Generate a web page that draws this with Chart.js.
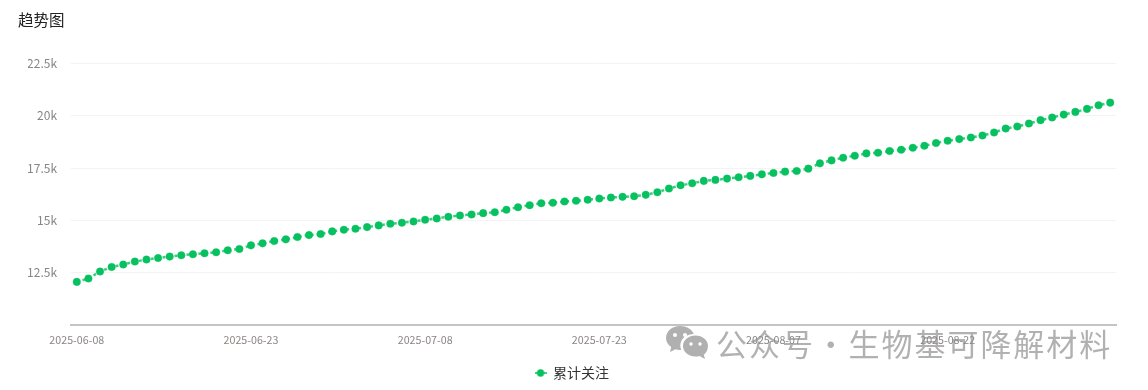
<!DOCTYPE html>
<html>
<head>
<meta charset="utf-8">
<title>趋势图</title>
<script src="https://cdn.jsdelivr.net/npm/chart.js@4/dist/chart.umd.min.js"></script>
<style>
  body { margin: 0; background: #fff; }
  #wrap { position: relative; width: 1148px; height: 390px; overflow: hidden; }
  #mark { position: absolute; left: 716px; top: 321px; font: 31px "Noto Sans CJK SC", sans-serif; letter-spacing: 1.95px; word-spacing: -8.5px; color: rgba(140,140,140,.68); white-space: nowrap; line-height: 44px; }
  #logo { position: absolute; left: 665px; top: 325px; }
</style>
</head>
<body>
<div id="wrap">
  <canvas id="trendChart" width="1148" height="390"></canvas>
  <svg id="logo" width="44" height="38" viewBox="0 0 44 38">
    <path fill="#b0b0b0" d="M15 1C7 1 1 6.500 1 13c0 3.800 2 6.800 5.200 9L5 27l5.500-2.800c1.500.4 3 .7 4.500.7h1.200C15.500 23 15.300 21.500 15.300 20.500c0-6.500 6-11.500 13.500-11.500C26.800 4.200 21.500 1 15 1z"/>
    <path fill="#b0b0b0" d="M43 21c0-6-5.800-10.500-12.500-10.500S18 15 18 21s5.800 10.500 12.500 10.500c1.400 0 2.800-.2 4-.6L40 34l-1.200-4.300C41.400 27.700 43 24.500 43 21z"/>
    <circle fill="#fff" cx="10" cy="10" r="2"/><circle fill="#fff" cx="20" cy="10" r="2"/>
    <circle fill="#fff" cx="26" cy="19" r="1.700"/><circle fill="#fff" cx="35" cy="19" r="1.700"/>
  </svg>
  <div id="mark">公众号 · 生物基可降解材料</div>
</div>
<script>
// Dates on the x axis
const june = ["2025-06-08","2025-06-09","2025-06-10","2025-06-11","2025-06-12","2025-06-13","2025-06-14","2025-06-15","2025-06-16","2025-06-17","2025-06-18","2025-06-19","2025-06-20","2025-06-21","2025-06-22","2025-06-23","2025-06-24","2025-06-25","2025-06-26","2025-06-27","2025-06-28","2025-06-29","2025-06-30"];
const july = ["2025-07-01","2025-07-02","2025-07-03","2025-07-04","2025-07-05","2025-07-06","2025-07-07","2025-07-08","2025-07-09","2025-07-10","2025-07-11","2025-07-12","2025-07-13","2025-07-14","2025-07-15","2025-07-16","2025-07-17","2025-07-18","2025-07-19","2025-07-20","2025-07-21","2025-07-22","2025-07-23","2025-07-24","2025-07-25","2025-07-26","2025-07-27","2025-07-28","2025-07-29","2025-07-30","2025-07-31"];
const august = ["2025-08-01","2025-08-02","2025-08-03","2025-08-04","2025-08-05","2025-08-06","2025-08-07","2025-08-08","2025-08-09","2025-08-10","2025-08-11","2025-08-12","2025-08-13","2025-08-14","2025-08-15","2025-08-16","2025-08-17","2025-08-18","2025-08-19","2025-08-20","2025-08-21","2025-08-22","2025-08-23","2025-08-24","2025-08-25","2025-08-26","2025-08-27","2025-08-28","2025-08-29","2025-08-30","2025-08-31"];
const september = ["2025-09-01","2025-09-02","2025-09-03","2025-09-04","2025-09-05"];
const categories = [...june, ...july, ...august, ...september];

// Labels shown on the axes
const xTickLabels = ["2025-06-08","2025-06-23","2025-07-08","2025-07-23","2025-08-07","2025-08-22"];
const yTickLabels = { 12500: "12.5k", 15000: "15k", 17500: "17.5k", 20000: "20k", 22500: "22.5k" };

// Values
const followers = [
  12062,12224,12557,12776,12890,13033,13129,13205,13272,13333,
  13381,13429,13476,13571,13633,13810,13905,14014,14095,14205,
  14300,14348,14476,14557,14605,14681,14762,14843,14890,14952,
  15033,15095,15176,15238,15286,15348,15395,15510,15633,15729,
  15824,15843,15905,15938,15986,16048,16095,16129,16157,16224,
  16348,16524,16681,16776,16890,16938,17000,17062,17129,17205,
  17272,17333,17367,17476,17729,17872,18000,18095,18205,18238,
  18319,18381,18476,18571,18700,18810,18890,18967,19062,19205,
  19395,19490,19633,19795,19919,20062,20190,20333,20510,20633
];

const GREEN = "#07c160";
const FONT = '"Noto Sans CJK SC", "Noto Sans", sans-serif';

// Legend marker: dot with a bit of line through it
function legendMarker() {
  const c = document.createElement("canvas");
  c.width = 12;
  c.height = 10;
  const g = c.getContext("2d");
  g.strokeStyle = "rgba(7,193,96,.75)";
  g.lineWidth = 2;
  g.beginPath();
  g.moveTo(0, 5);
  g.lineTo(12, 5);
  g.stroke();
  g.fillStyle = GREEN;
  g.beginPath();
  g.arc(6, 5, 3.7, 0, Math.PI * 2);
  g.fill();
  return c;
}

// Title sits further left than the plot padding
const titleShift = {
  id: "titleShift",
  afterLayout: chart => { chart.titleBlock.left = 18; }
};

new Chart(document.getElementById("trendChart"), {
  type: "line",
  plugins: [titleShift],
  data: {
    labels: categories,
    datasets: [
      {
        label: "累计关注",
        data: followers,
        borderColor: "rgba(7,193,96,.8)",
        borderWidth: 2.5,
        borderDash: [3, 3],
        backgroundColor: GREEN,
        pointBackgroundColor: GREEN,
        pointBorderColor: "rgba(7,193,96,.3)",
        pointRadius: 3.8,
        pointBorderWidth: 1,
        tension: 0
      }
    ]
  },
  options: {
    responsive: false,
    animation: false,
    layout: { padding: { left: 28, right: 32, top: 11, bottom: 0 } },
    plugins: {
      title: {
        display: true,
        text: "趋势图",
        align: "start",
        color: "#222",
        font: { family: FONT, size: 15.5, weight: "normal" },
        padding: { top: 0, bottom: 34 }
      },
      legend: {
        position: "bottom",
        labels: {
          usePointStyle: true,
          boxWidth: 11,
          generateLabels: chart => [{
            text: "累计关注",
            pointStyle: legendMarker(),
            fontColor: "#333",
            lineWidth: 0,
            datasetIndex: 0
          }],
          font: { family: FONT, size: 14 },
          color: "#333",
          padding: 8
        }
      },
      tooltip: { enabled: false }
    },
    scales: {
      x: {
        offset: true,
        afterFit: axis => { axis.height = 33; },
        grid: { display: false },
        border: { color: "#c4c4c4", width: 2 },
        ticks: {
          autoSkip: false,
          maxRotation: 0,
          padding: 1,
          color: "#8a8583",
          font: { family: FONT, size: 10.7 },
          callback: function (value) {
            const label = this.getLabelForValue(value);
            return xTickLabels.includes(label) ? label : "";
          }
        }
      },
      y: {
        min: 10000,
        max: 22500,
        afterFit: axis => { axis.width = 43; },
        grid: { color: "#f3f3f3", drawTicks: false },
        border: { display: false },
        ticks: {
          stepSize: 2500,
          padding: 14,
          color: "#8a8583",
          font: { family: FONT, size: 12 },
          callback: value => yTickLabels[value] || ""
        }
      }
    }
  }
});
</script>
</body>
</html>
